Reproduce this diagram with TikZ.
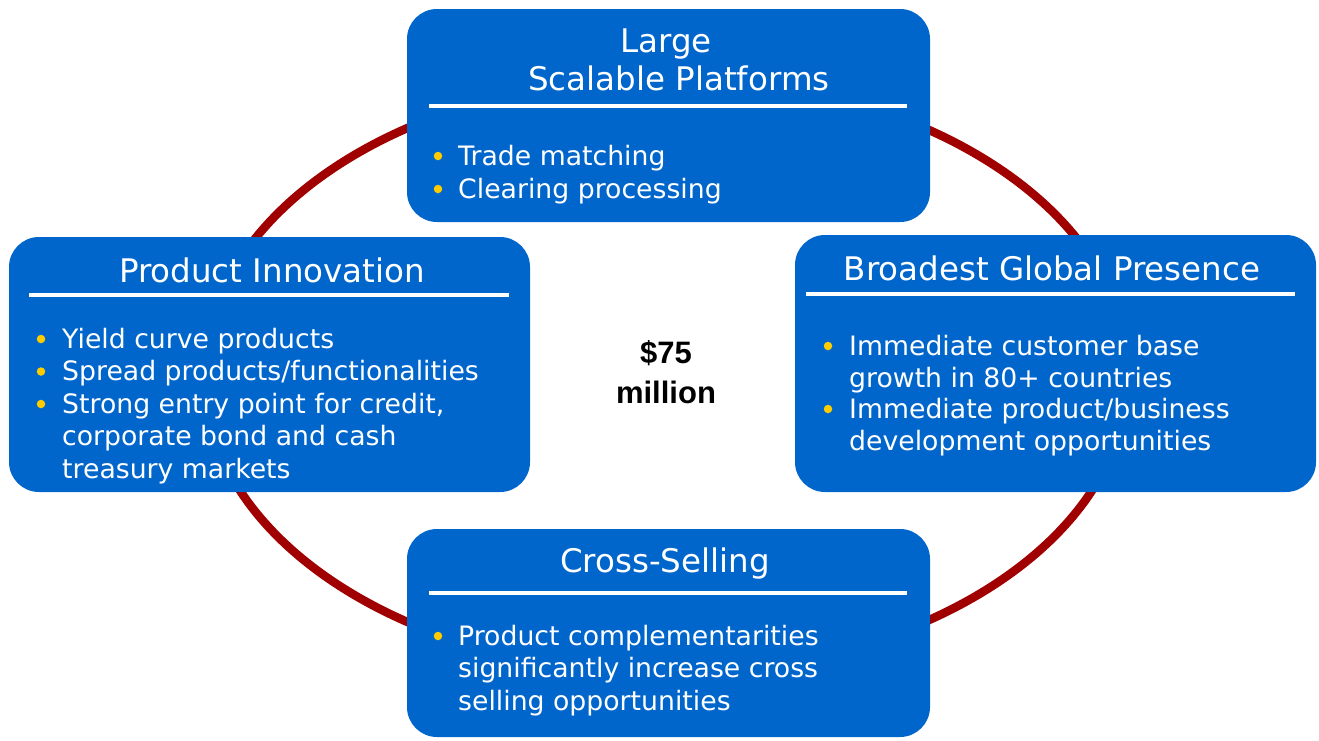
\documentclass[tikz,border=0pt]{standalone}
\usepackage{fontspec}
\setmainfont{DejaVu Sans}
\newfontfamily\figfont{Liberation Sans}
\definecolor{panelblue}{RGB}{0,102,204}
\definecolor{ringred}{RGB}{160,0,0}
\definecolor{bulletyellow}{RGB}{255,204,0}
\begin{document}
\begin{tikzpicture}[x=1pt,y=-1pt,
  panel/.style={fill=panelblue, draw=none, rounded corners=30pt, inner sep=0pt},
  heading/.style={text=white, inner sep=0pt, anchor=base, font=\fontsize{32.5}{38}\selectfont},
  rule/.style={draw=white, line width=4pt},
  dot/.style={circle, fill=bulletyellow, inner sep=0pt, minimum size=8.5pt},
  % multi-line items are placed by the baseline of their last line
  item/.style={text=white, inner sep=0pt, anchor=base west, align=left,
    font=\fontsize{26.7}{32.5}\selectfont},
  ring/.style={draw=ringred, line width=8.5pt},
  centre/.style={inner sep=0pt, anchor=base, align=center,
    font=\figfont\bfseries\fontsize{31}{40}\selectfont}
]
\useasboundingbox (0,0) rectangle (1319,740);

% the ring running behind the four panels
\draw[ring] (666,375) ellipse [x radius=462pt, y radius=298pt];

% panels
\node[panel, minimum width=523pt, minimum height=213pt] (top) at (668.5,115.5) {};
\node[panel, minimum width=521pt, minimum height=255pt] (left) at (269.5,364.5) {};
\node[panel, minimum width=521pt, minimum height=257pt] (right) at (1055.5,363.5) {};
\node[panel, minimum width=523pt, minimum height=208pt] (bottom) at (668.5,633) {};

% headings and rules
\node[heading] (topT1) at (666,52) {Large};
\node[heading] (topT2) at (679,90) {Scalable Platforms};
\draw[rule] (429,106) -- (907,106);

\node[heading] (leftT) at (272,282) {Product Innovation};
\draw[rule] (29,294.5) -- (509,294.5);

\node[heading] (rightT) at (1052,280) {Broadest Global Presence};
\draw[rule] (806,294) -- (1295,294);

\node[heading] (bottomT) at (665,572) {Cross-Selling};
\draw[rule] (429,593) -- (907,593);

% top panel items
\node[dot] at (438,156) {};
\node[item] (top1) at (458,165) {Trade matching};
\node[dot] at (438,189) {};
\node[item] (top2) at (458,198) {Clearing processing};

% left panel items
\node[dot] at (41,339) {};
\node[item] (left1) at (62,348) {Yield curve products};
\node[dot] at (41,371.5) {};
\node[item] (left2) at (62,380.5) {Spread products/functionalities};
\node[dot] at (41,404) {};
\node[item] (left3) at (62,478) {Strong entry point for credit,\\corporate bond and cash\\treasury markets};

% right panel items
\node[dot] at (828,346) {};
\node[item] (right1) at (849,387.5) {Immediate customer base\\growth in 80+ countries};
\node[dot] at (828,409) {};
\node[item] (right2) at (849,450.5) {Immediate product/business\\development opportunities};

% bottom panel item
\node[dot] at (438,636) {};
\node[item] (bottom1) at (458,710) {Product complementarities\\significantly increase cross\\selling opportunities};

% figure in the middle
\node[centre] (value) at (666,403) {\$75\\million};
\end{tikzpicture}
\end{document}
